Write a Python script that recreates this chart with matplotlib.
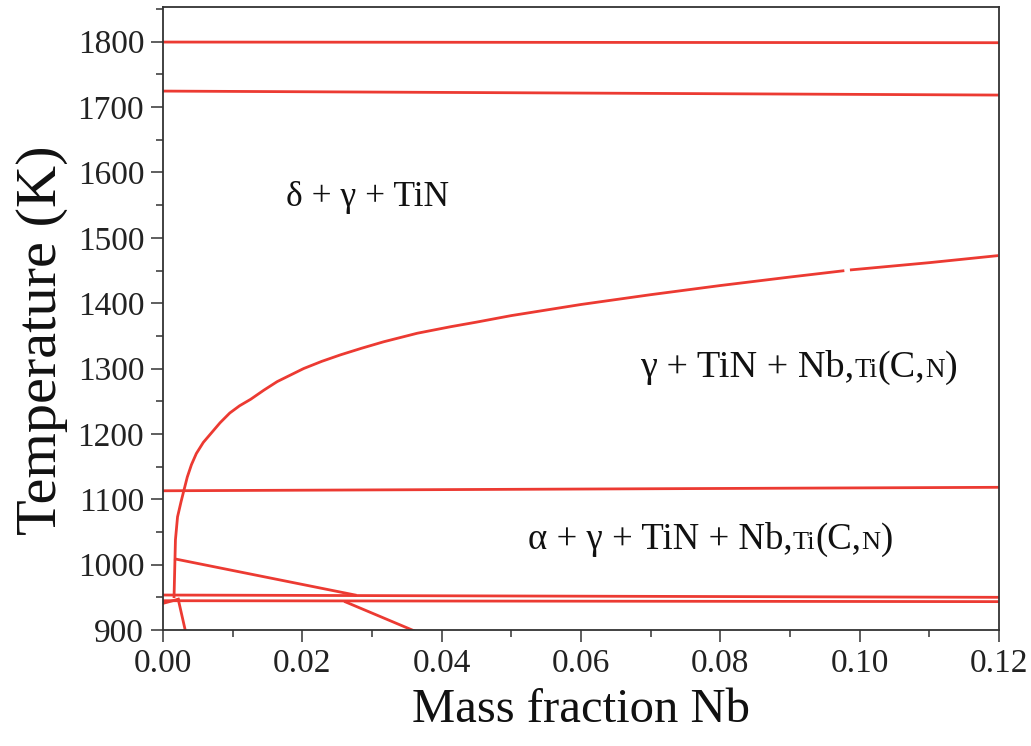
import numpy as np
import matplotlib
matplotlib.use("Agg")
import matplotlib.pyplot as plt
from matplotlib.offsetbox import TextArea, HPacker, AnnotationBbox

plt.rcParams['font.family'] = ['Liberation Serif', 'DejaVu Serif']

# nearly horizontal phase boundaries: (y at x=0, y at x=0.12)
flat_x = [0.0, 0.12]
flat_lines = [
    [1799.5, 1798.5],
    [1724.5, 1718.4],
    [1113.0, 1118.3],
    [953.5, 950.0],
    [944.8, 943.4],
]

# gamma / gamma+Nb(C,N) boundary, drawn in two pieces (small gap near 0.098)
curve_x1 = [0.0016, 0.0018, 0.0021, 0.0026, 0.0030, 0.0035, 0.0041, 0.0048,
            0.0058, 0.0070, 0.0082, 0.0096, 0.0110, 0.0126, 0.0145, 0.0164,
            0.0183, 0.0202, 0.0228, 0.0255, 0.0285, 0.0317, 0.0365, 0.0413,
            0.045, 0.050, 0.060, 0.070, 0.080, 0.090, 0.0976]
curve_y1 = [951, 1038, 1073, 1096, 1113, 1134, 1153, 1170, 1187, 1202, 1217,
            1232, 1243, 1253, 1267, 1280, 1290, 1300, 1311, 1321, 1331, 1341,
            1354, 1364, 1371, 1381, 1398, 1413, 1427, 1440, 1449.5]
curve_x2 = [0.0988, 0.110, 0.1197]
curve_y2 = [1451, 1462, 1472.6]

# short segments in the low temperature corner
stub_x = [0.0001, 0.0022]
stub_y = [941, 947]
branch_x = [0.0022, 0.0032]
branch_y = [947, 900]
diag1_x = [0.0018, 0.0276]
diag1_y = [1008.6, 953.5]
diag2_x = [0.0262, 0.0360]
diag2_y = [943, 899]

red = '#ec3a32'
lw = 2.0

fig = plt.figure(figsize=(10.31, 7.46), dpi=100)
ax = fig.add_axes([0.158, 0.1555, 0.811, 0.835])

for yy in flat_lines:
    ax.plot(flat_x, yy, color=red, lw=lw)
ax.plot(curve_x1, curve_y1, color=red, lw=lw)
ax.plot(curve_x2, curve_y2, color=red, lw=lw)
for xs, ys in [(stub_x, stub_y), (branch_x, branch_y), (diag1_x, diag1_y), (diag2_x, diag2_y)]:
    ax.plot(xs, ys, color=red, lw=lw)

ax.set_xlim(0, 0.12)
ax.set_ylim(900, 1853)
ax.set_xticks(np.arange(0, 0.121, 0.02))
ax.set_xticks(np.arange(0, 0.121, 0.01), minor=True)
ax.set_yticks(np.arange(900, 1801, 100))
ax.set_yticks(np.arange(900, 1851, 50), minor=True)
ax.set_xticklabels(['%.2f' % v for v in np.arange(0, 0.121, 0.02)])

ax.tick_params(which='both', direction='out', colors='#333333', width=1.1,
               labelsize=24, top=False, right=False)
ax.tick_params(which='major', length=8.5, pad=5)
ax.tick_params(which='minor', length=5)
ax.tick_params(axis='x', labelcolor='#222222')
ax.tick_params(axis='y', labelcolor='#222222')
for s in ax.spines.values():
    s.set_color('#333333')
    s.set_linewidth(1.3)

ax.set_xlabel('Mass fraction Nb', fontsize=35, color='#111111', labelpad=6)
ax.set_ylabel('Temperature (K)', fontsize=42, color='#111111')
ax.yaxis.set_label_coords(-0.113, 0.465)


def phase_label(parts, xy):
    boxes = [TextArea(t, textprops=dict(fontsize=fs, color='#111111')) for t, fs in parts]
    pack = HPacker(children=boxes, align='baseline', pad=0, sep=0)
    ab = AnnotationBbox(pack, xy, xycoords='data', frameon=False, box_alignment=(0, 0))
    ax.add_artist(ab)


big, small = 26.5, 19
phase_label([('δ + γ + TiN', 25.5)], (0.0177, 1537))
phase_label([('γ + TiN + Nb,', 27.5), ('Ti', 19.5), ('(C,', 27.5), ('N', 19.5), (')', 27.5)],
            (0.0685, 1275))
phase_label([('α + γ + TiN + Nb,', big), ('Ti', small), ('(C,', big), ('N', small), (')', big)],
            (0.0524, 1012))

fig.savefig('out.png', dpi=100)
